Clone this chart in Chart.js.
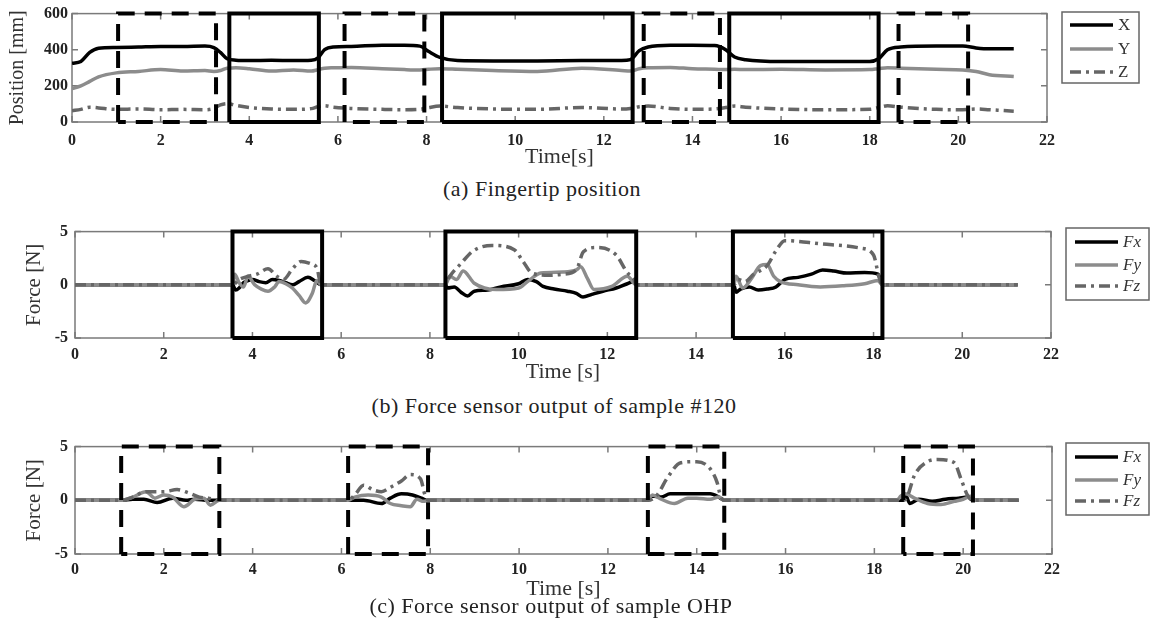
<!DOCTYPE html>
<html>
<head>
<meta charset="utf-8">
<script src="https://cdn.jsdelivr.net/npm/chart.js@4.4.1/dist/chart.umd.min.js"></script>
<style>
  body { margin: 0; background: #fff; width: 1150px; height: 640px; position: relative; overflow: hidden; }
  canvas { position: absolute; left: 0; }
  .cap { position: absolute; left: 0; text-align: center; font-family: "Liberation Serif", serif;
         font-size: 22px; letter-spacing: 0.5px; line-height: 26px; color: #222; }
</style>
</head>
<body>
<canvas id="posChart" width="1150" height="170" style="top:0px"></canvas>
<div class="cap" style="top:176px; width:1084px">(a) Fingertip position</div>
<canvas id="f120Chart" width="1150" height="170" style="top:215px"></canvas>
<div class="cap" style="top:393px; width:1108px">(b) Force sensor output of sample #120</div>
<canvas id="ohpChart" width="1150" height="172" style="top:430px"></canvas>
<div class="cap" style="top:593px; width:1102px">(c) Force sensor output of sample OHP</div>

<script>
// (a) fingertip position, mm
const tA   = [0, 0.2, 0.4, 0.6, 1.0, 1.5, 2.0, 2.5, 3.0, 3.2, 3.35, 3.5, 3.7, 4.0, 4.5, 5.0, 5.4, 5.55, 5.7, 5.9,
              6.3, 7.0, 7.5, 7.85, 8.05, 8.3, 8.7, 9.5, 10.5, 11.5, 12.4, 12.6, 12.8, 13.0, 13.5, 14.0, 14.5, 14.75,
              14.95, 15.2, 16.0, 17.0, 18.0, 18.2, 18.4, 18.7, 19.5, 20.1, 20.4, 20.7, 21.25];
const posX = [325, 335, 385, 408, 412, 415, 418, 418, 420, 412, 385, 350, 342, 340, 342, 340, 342, 355, 400, 415,
              418, 425, 425, 420, 390, 358, 340, 338, 338, 340, 340, 345, 395, 415, 425, 425, 423, 400,
              360, 345, 335, 335, 335, 350, 400, 415, 420, 420, 410, 405, 405];
const posY = [185, 200, 225, 250, 272, 280, 290, 282, 285, 280, 285, 298, 300, 295, 282, 288, 282, 290, 298, 300,
              302, 295, 290, 288, 292, 295, 292, 285, 280, 298, 285, 282, 295, 300, 302, 295, 292, 290,
              292, 290, 292, 288, 290, 295, 300, 298, 292, 288, 280, 262, 252];
const posZ = [62, 70, 82, 78, 70, 72, 68, 70, 68, 75, 95, 102, 92, 80, 72, 70, 74, 85, 90, 82,
              75, 70, 68, 70, 80, 88, 80, 72, 70, 80, 72, 75, 85, 88, 75, 70, 72, 80,
              88, 82, 72, 68, 70, 80, 90, 82, 70, 68, 72, 68, 60];

// (b) sample #120, N, [time, value]
const fx120 = [[0,0],[3.55,0],[3.62,-0.5],[3.7,-0.3],[3.8,0.2],[3.9,0.4],[4.0,0.5],[4.15,0.3],[4.3,0.2],[4.45,0.5],
  [4.6,0.4],[4.75,0.2],[4.9,0.0],[5.05,0.3],[5.25,0.7],[5.4,0.4],[5.55,0],[8.35,0],[8.4,-0.3],[8.55,-0.2],[8.7,-0.7],
  [8.85,-1.05],[9.0,-0.6],[9.3,-0.5],[9.6,-0.2],[10.0,0.1],[10.2,0.5],[10.4,0.3],[10.55,-0.15],[10.8,-0.4],[11.1,-0.6],
  [11.3,-0.8],[11.45,-1.15],[11.65,-0.9],[11.9,-0.6],[12.2,-0.3],[12.45,0.1],[12.6,0.3],[12.65,0],[14.85,0],[14.9,-0.7],
  [15.0,-0.4],[15.2,-0.2],[15.4,-0.5],[15.6,-0.4],[15.8,-0.2],[16.0,0.5],[16.3,0.7],[16.6,1.0],[16.85,1.4],[17.1,1.3],
  [17.4,1.1],[17.8,1.15],[18.1,1.0],[18.2,0],[21.25,0]];
const fy120 = [[0,0],[3.55,0],[3.6,1.0],[3.7,0.2],[3.8,-0.2],[3.9,0.8],[4.05,0.0],[4.2,-0.4],[4.35,-0.6],[4.5,-0.2],
  [4.6,0.3],[4.75,0.1],[4.9,-0.3],[5.05,-1.0],[5.2,-1.7],[5.35,-0.8],[5.45,0.4],[5.55,0],[8.35,0],[8.45,0.8],[8.6,0.5],
  [8.75,1.3],[9.0,0.15],[9.5,-0.45],[10.0,-0.3],[10.2,0.3],[10.5,1.1],[11.0,1.2],[11.3,1.4],[11.4,1.7],[11.55,0.6],
  [11.7,-0.45],[12.1,-0.15],[12.45,0.8],[12.65,0],[14.85,0],[14.9,0.8],[15.05,-0.3],[15.25,0.6],[15.45,1.8],[15.6,1.9],
  [15.75,0.8],[15.9,0.3],[16.3,0.0],[16.8,-0.2],[17.3,-0.1],[17.8,0.1],[18.1,0.4],[18.2,0],[21.25,0]];
const fz120 = [[0,0],[3.55,0],[3.7,0.5],[3.9,0.8],[4.1,1.0],[4.35,1.5],[4.55,0.8],[4.7,0.5],[4.9,1.5],[5.1,2.2],
  [5.3,2.0],[5.45,1.6],[5.55,0],[8.35,0],[8.45,0.8],[8.7,2.0],[8.98,3.2],[9.4,3.7],[9.9,3.3],[10.1,2.2],[10.3,1.1],
  [10.7,0.9],[11.0,1.0],[11.3,1.4],[11.46,3.1],[11.76,3.5],[12.2,2.8],[12.44,1.2],[12.6,0.5],[12.65,0],[14.85,0],
  [14.95,0.5],[15.1,0.3],[15.3,1.0],[15.6,1.8],[15.8,3.2],[16.0,4.15],[16.8,3.85],[17.7,3.45],[18.0,2.8],[18.12,0.8],
  [18.2,0],[21.25,0]];

// (c) sample OHP, N, [time, value]
const fxOhp = [[0,0],[1.05,0],[1.3,0.1],[1.55,0.1],[1.85,-0.2],[2.2,0.2],[2.5,0.0],[2.7,0.1],[3.0,0.0],[3.25,0],
  [6.15,0],[6.5,0.0],[6.9,-0.3],[7.1,0.2],[7.35,0.6],[7.6,0.5],[7.8,0.2],[7.95,0],[12.9,0],[13.0,0.4],[13.2,0.3],
  [13.4,0.6],[13.8,0.6],[14.3,0.6],[14.5,0.3],[14.62,0],[18.65,0],[18.7,0.5],[18.8,-0.3],[19.0,0.1],[19.3,-0.1],
  [19.6,0.1],[19.9,0.2],[20.1,0.3],[20.22,0],[21.25,0]];
const fyOhp = [[0,0],[1.05,0],[1.3,0.3],[1.6,0.8],[1.8,0.2],[2.0,0.5],[2.2,0.3],[2.45,-0.6],[2.7,0.1],[2.9,0.2],
  [3.05,-0.45],[3.25,0],[6.15,0],[6.3,0.3],[6.6,0.5],[6.9,0.3],[7.1,-0.3],[7.35,-0.5],[7.55,-0.6],[7.7,0.1],[7.85,-0.1],
  [7.95,0],[12.9,0],[13.0,0.5],[13.2,0.1],[13.5,-0.3],[13.8,0.2],[14.0,0.2],[14.3,0.1],[14.5,0.3],[14.62,0],[18.5,0],
  [18.6,0.4],[18.7,0.6],[18.9,0.2],[19.2,-0.3],[19.5,-0.4],[19.8,-0.1],[20.0,0.1],[20.2,0.4],[20.25,0],[21.25,0]];
const fzOhp = [[0,0],[1.05,0],[1.3,0.3],[1.6,0.8],[2.0,0.8],[2.3,1.0],[2.55,0.7],[2.8,0.3],[3.0,0.2],[3.25,0],
  [6.15,0],[6.3,0.5],[6.5,1.4],[6.7,1.0],[6.9,0.8],[7.1,1.2],[7.35,1.8],[7.55,2.4],[7.78,2.0],[7.88,0.5],[7.95,0],
  [12.9,0],[13.1,0.45],[13.34,2.1],[13.64,3.5],[14.0,3.6],[14.31,2.9],[14.46,1.65],[14.53,0.5],[14.62,0],[18.65,0],
  [18.75,0.45],[18.9,2.3],[19.2,3.6],[19.42,3.8],[19.8,3.5],[19.95,2.0],[20.1,0.45],[20.22,0],[21.25,0]];

// contact intervals (s): solid = #120, dashed = OHP
const solidSpans  = [[3.55, 5.57], [8.35, 12.65], [14.83, 18.2]];
const dashedSpans = [[1.04, 3.25], [6.15, 7.95], [12.9, 14.62], [18.65, 20.22]];

Chart.defaults.font.family = '"Liberation Serif", serif';
Chart.defaults.color = '#222';

const toXY = pairs => pairs.map(p => ({x: p[0], y: p[1]}));

// closed rectangles over the full y range, separated by gaps
function spanBoxes(spans, lo, hi) {
  const pts = [];
  spans.forEach(s => {
    pts.push({x: s[0], y: lo}, {x: s[0], y: hi}, {x: s[1], y: hi}, {x: s[1], y: lo}, {x: s[0], y: lo});
    pts.push({x: s[0], y: null});
  });
  return pts;
}

function series(label, data, color, dash, order) {
  return {label: label, data: data, borderColor: color, borderWidth: 3.5, borderDash: dash || [],
          cubicInterpolationMode: 'monotone', order: order};
}
function boxSet(spans, lo, hi, dash) {
  return {label: '', data: spanBoxes(spans, lo, hi), borderColor: '#000', borderWidth: 4,
          borderDash: dash || [], tension: 0, clip: false, order: 0};
}

// frame plus inward tick marks on all four sides
const frameTicks = {
  id: 'frameTicks',
  beforeDatasetsDraw(chart) {
    const {ctx, chartArea: a, scales: {x, y}} = chart;
    ctx.save();
    ctx.strokeStyle = '#7a7a7a';
    ctx.lineWidth = 1.5;
    ctx.strokeRect(a.left, a.top, a.right - a.left, a.bottom - a.top);
    ctx.beginPath();
    x.ticks.forEach(t => {
      const px = x.getPixelForValue(t.value);
      ctx.moveTo(px, a.bottom); ctx.lineTo(px, a.bottom - 6);
      ctx.moveTo(px, a.top); ctx.lineTo(px, a.top + 6);
    });
    y.ticks.forEach(t => {
      const py = y.getPixelForValue(t.value);
      ctx.moveTo(a.left, py); ctx.lineTo(a.left + 6, py);
      ctx.moveTo(a.right, py); ctx.lineTo(a.right - 6, py);
    });
    ctx.stroke();
    ctx.restore();
  }
};

// boxed legend like the original figure
const boxLegend = {
  id: 'boxLegend',
  afterDraw(chart, args, o) {
    const ctx = chart.ctx;
    ctx.save();
    ctx.strokeStyle = '#666';
    ctx.lineWidth = 1.5;
    ctx.strokeRect(o.left, o.top, o.width, o.height);
    o.labels.forEach((lab, i) => {
      const ds = chart.data.datasets.find(d => d.label === lab);
      const y = o.top + o.rows[i];
      ctx.strokeStyle = ds.borderColor;
      ctx.lineWidth = ds.borderWidth;
      ctx.setLineDash(ds.borderDash || []);
      ctx.beginPath();
      ctx.moveTo(o.left + o.lineStart, y);
      ctx.lineTo(o.left + o.lineEnd, y);
      ctx.stroke();
      ctx.setLineDash([]);
      ctx.fillStyle = '#333';
      ctx.font = o.font;
      ctx.textBaseline = 'middle';
      ctx.fillText(lab, o.left + o.textX, y + 1);
    });
    ctx.restore();
  }
};

function makeChart(id, datasets, s) {
  return new Chart(document.getElementById(id), {
    type: 'line',
    data: {datasets: datasets},
    options: {
      responsive: false,
      animation: false,
      events: [],
      layout: {padding: {top: s.padTop, right: s.padRight, left: 0, bottom: 0}},
      elements: {point: {radius: 0}},
      plugins: {legend: {display: false}, tooltip: {enabled: false}, boxLegend: s.legend},
      scales: {
        x: {
          type: 'linear', min: 0, max: 22,
          grid: {display: false, drawTicks: false}, border: {display: false},
          ticks: {stepSize: 2, padding: s.xPad, font: {size: 16, weight: 'bold'}, color: '#222'},
          title: {display: true, text: s.xTitle, font: {size: 22}, color: '#333', padding: 0},
          afterFit: sc => { sc.height = s.xHeight; }
        },
        y: {
          type: 'linear', min: s.yMin, max: s.yMax,
          grid: {display: false, drawTicks: false}, border: {display: false},
          ticks: {stepSize: s.yStep, padding: s.yPad, font: {size: 16, weight: 'bold'}, color: '#222'},
          title: {display: true, text: s.yTitle, font: {size: s.yTitleSize}, color: '#333',
                  padding: {top: s.yTitlePad, bottom: 0}},
          afterFit: sc => { sc.width = s.yWidth; }
        }
      }
    },
    plugins: [frameTicks, boxLegend]
  });
}

makeChart('posChart', [
  series('X', tA.map((t, i) => ({x: t, y: posX[i]})), '#000', null, 2),
  series('Y', tA.map((t, i) => ({x: t, y: posY[i]})), '#8c8c8c', null, 3),
  series('Z', tA.map((t, i) => ({x: t, y: posZ[i]})), '#666', [11, 5, 3, 5], 1),
  boxSet(solidSpans, 0, 600),
  boxSet(dashedSpans, 0, 600, [17, 10])
], {
  padTop: 12, padRight: 103, xHeight: 48, yWidth: 72, xPad: 9, yPad: 4,
  yMin: 0, yMax: 600, yStep: 200, xTitle: 'Time[s]', yTitle: 'Position [mm]', yTitleSize: 20, yTitlePad: 6,
  legend: {left: 1062, top: 12, width: 77, height: 71, rows: [13, 37, 60], lineStart: 8, lineEnd: 51,
           textX: 56, font: '17px "Liberation Serif"', labels: ['X', 'Y', 'Z']}
});

const forceLegend = top => ({left: 1066, top: top, width: 83, height: 72, rows: [14, 37, 58], lineStart: 9,
  lineEnd: 52, textX: 57, font: 'italic 17px "Liberation Serif"', labels: ['Fx', 'Fy', 'Fz']});

makeChart('f120Chart', [
  series('Fx', toXY(fx120), '#000', null, 4),
  series('Fy', toXY(fy120), '#8c8c8c', null, 3),
  series('Fz', toXY(fz120), '#666', [11, 5, 3, 5], 2),
  boxSet(solidSpans, -5, 5)
], {
  padTop: 14, padRight: 99, xHeight: 47, yWidth: 75, xPad: 7, yPad: 7,
  yMin: -5, yMax: 5, yStep: 5, xTitle: 'Time [s]', yTitle: 'Force [N]', yTitleSize: 21, yTitlePad: 22,
  legend: forceLegend(13)
});

makeChart('ohpChart', [
  series('Fx', toXY(fxOhp), '#000', null, 4),
  series('Fy', toXY(fyOhp), '#8c8c8c', null, 3),
  series('Fz', toXY(fzOhp), '#666', [11, 5, 3, 5], 2),
  boxSet(dashedSpans, -5, 5, [17, 10])
], {
  padTop: 13, padRight: 98, xHeight: 48, yWidth: 75, xPad: 6, yPad: 7,
  yMin: -5, yMax: 5, yStep: 5, xTitle: 'Time [s]', yTitle: 'Force [N]', yTitleSize: 21, yTitlePad: 22,
  legend: forceLegend(13)
});
</script>
</body>
</html>
